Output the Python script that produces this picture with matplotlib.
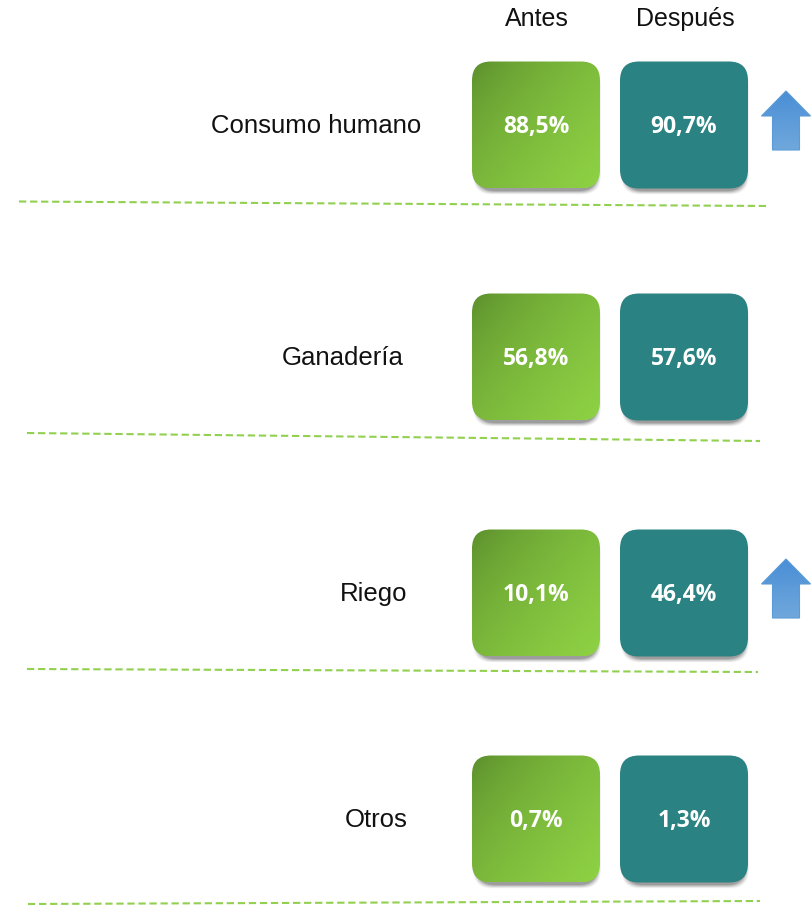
import numpy as np
import matplotlib
matplotlib.use("Agg")
import matplotlib.pyplot as plt
from matplotlib.patches import FancyBboxPatch, Polygon
from matplotlib.colors import to_rgb

# ---- data ----
categories = ["Consumo humano", "Ganadería", "Riego", "Otros"]
antes = [88.5, 56.8, 10.1, 0.7]
despues = [90.7, 57.6, 46.4, 1.3]
arrow_up = [True, False, True, False]
headers = ["Antes", "Después"]

# ---- layout (pixels) ----
W, H = 811, 906
row_y = [125, 357, 593, 819]
label_right = [421, 404, 407, 408]
box_x = [472, 620]
box_w, box_h = 128, 127
sep_lines = [((19, 201.5), (768, 206)), ((27, 433), (760, 441)),
             ((27, 669), (758, 672)), ((28, 904), (760, 901))]

fig = plt.figure(figsize=(W / 100, H / 100), dpi=100)
ax = fig.add_axes([0, 0, 1, 1])
ax.set_xlim(0, W)
ax.set_ylim(H, 0)
ax.axis("off")

label_font = "Liberation Sans"
value_font = "Open Sans"

# headers
for hx, htxt in zip([b + box_w / 2 for b in box_x], headers):
    ax.text(hx + 1, 19, htxt, ha="center", va="center", fontsize=18,
            family=label_font, color="#111111")


def fmt(v):
    return f"{v:.1f}".replace(".", ",") + "%"


def gradient_img(c0, c1, n=128, diag=True):
    yy, xx = np.mgrid[0:1:n * 1j, 0:1:n * 1j]
    if diag:
        t = np.clip((xx * 0.55 + yy * 0.45) ** 0.55, 0, 1)
    else:
        t = yy
    c0 = np.array(to_rgb(c0)); c1 = np.array(to_rgb(c1))
    return c0[None, None, :] * (1 - t[..., None]) + c1[None, None, :] * t[..., None]


def rounded_box(x0, y0, w, h, color=None, grad=None):
    r = 19
    # soft shadow
    for k, a in zip(range(8, 0, -1), [0.03, 0.035, 0.04, 0.05, 0.06, 0.07, 0.08, 0.09]):
        sh = FancyBboxPatch((x0 + 5 - k * 0.5, y0 + 8 - k * 0.5),
                            w - 8 + k, h - 6 + k,
                            boxstyle=f"round,pad=0,rounding_size={r}",
                            fc="black", ec="none", alpha=a, zorder=1)
        ax.add_patch(sh)
    p = FancyBboxPatch((x0, y0), w, h, boxstyle=f"round,pad=0,rounding_size={r}",
                       fc=color if color else "none", ec="none", zorder=2)
    ax.add_patch(p)
    if grad is not None:
        im = ax.imshow(grad, extent=(x0, x0 + w, y0 + h, y0), origin="upper",
                       aspect="auto", zorder=3, interpolation="bilinear")
        im.set_clip_path(p)


for i, (cat, a, d, up) in enumerate(zip(categories, antes, despues, arrow_up)):
    cy = row_y[i]
    ax.text(label_right[i], cy + 1, cat, ha="right", va="center", fontsize=18.5,
            family=label_font, color="#111111")
    y0 = cy - box_h / 2
    rounded_box(box_x[0], y0, box_w, box_h,
                grad=gradient_img("#55862a", "#8fd244"))
    rounded_box(box_x[1], y0, box_w, box_h, color="#2b8282")
    ax.text(box_x[0] + box_w / 2, cy + 2, fmt(a), ha="center", va="center",
            fontsize=16.5, fontweight="bold", family=value_font, color="white", zorder=5)
    ax.text(box_x[1] + box_w / 2, cy + 2, fmt(d), ha="center", va="center",
            fontsize=16.5, fontweight="bold", family=value_font, color="white", zorder=5)
    if up:
        top = cy - 34
        hb = top + 25
        bot = cy + 25
        cx = 786
        pts = [(cx, top), (cx + 24.5, hb), (cx + 13.5, hb), (cx + 13.5, bot),
               (cx - 13.5, bot), (cx - 13.5, hb), (cx - 24.5, hb)]
        poly = Polygon(pts, closed=True, fc="none", ec="#5b9bd5", lw=0.8, zorder=4)
        ax.add_patch(poly)
        g = gradient_img("#4a8ed6", "#70a8dc", diag=False)
        im = ax.imshow(g, extent=(cx - 25, cx + 25, bot, top), origin="upper",
                       aspect="auto", zorder=3, interpolation="bilinear")
        im.set_clip_path(Polygon(pts, closed=True, transform=ax.transData))

for (p0, p1) in sep_lines:
    ax.plot([p0[0], p1[0]], [p0[1], p1[1]], color="#92d050", lw=1.5,
            linestyle=(0, (3.5, 1.8)), zorder=1)

ax.set_xlim(0, W)
ax.set_ylim(H, 0)
fig.savefig("out.png", dpi=100)
